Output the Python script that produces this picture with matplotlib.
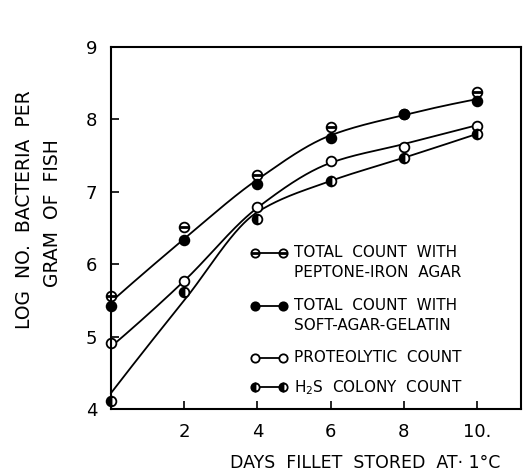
import numpy as np
import matplotlib
matplotlib.use("Agg")
import matplotlib.pyplot as plt

# ---- data ----
days = [0, 2, 4, 6, 8, 10]
peptone_iron = [5.56, 6.51, 7.23, 7.90, 8.08, 8.38]
soft_agar = [5.42, 6.33, 7.11, 7.74, 8.07, 8.25]
proteolytic = [4.91, 5.77, 6.79, 7.43, 7.62, 7.91]
h2s = [4.11, 5.62, 6.62, 7.15, 7.47, 7.80]

# hand-drawn smoothed curves (values of the drawn lines at each day)
curve_total = [5.48, 6.35, 7.17, 7.78, 8.06, 8.28]
curve_proteo = [4.86, 5.77, 6.78, 7.40, 7.66, 7.92]
curve_h2s = [4.22, 5.50, 6.72, 7.15, 7.47, 7.80]

x_ticks = [2, 4, 6, 8, 10]
x_ticklabels = ["2", "4", "6", "8", "10."]
y_ticks = [4, 5, 6, 7, 8, 9]
y_ticklabels = ["4", "5", "6", "7", "8", "9"]

legend_labels = ["TOTAL  COUNT  WITH\nPEPTONE-IRON  AGAR",
                 "TOTAL  COUNT  WITH\nSOFT-AGAR-GELATIN",
                 "PROTEOLYTIC  COUNT",
                 "H$_2$S  COLONY  COUNT"]


def pchip(xs, ys, n=60):
    """Shape-preserving cubic (PCHIP) used only to draw a smooth line."""
    x = np.asarray(xs, float)
    y = np.asarray(ys, float)
    h = np.diff(x)
    d = np.diff(y) / h
    m = np.zeros_like(y)
    for k in range(1, len(x) - 1):
        if d[k - 1] * d[k] > 0:
            w1 = 2 * h[k] + h[k - 1]
            w2 = h[k] + 2 * h[k - 1]
            m[k] = (w1 + w2) / (w1 / d[k - 1] + w2 / d[k])
    m[0] = ((2 * h[0] + h[1]) * d[0] - h[0] * d[1]) / (h[0] + h[1])
    if m[0] * d[0] <= 0:
        m[0] = 0
    m[-1] = ((2 * h[-1] + h[-2]) * d[-1] - h[-1] * d[-2]) / (h[-1] + h[-2])
    if m[-1] * d[-1] <= 0:
        m[-1] = 0
    ox, oy = [], []
    for k in range(len(x) - 1):
        t = np.linspace(0, 1, n)
        h00 = 2 * t**3 - 3 * t**2 + 1
        h10 = t**3 - 2 * t**2 + t
        h01 = -2 * t**3 + 3 * t**2
        h11 = t**3 - t**2
        ox.extend(x[k] + t * h[k])
        oy.extend(h00 * y[k] + h10 * h[k] * m[k] + h01 * y[k + 1] + h11 * h[k] * m[k + 1])
    return np.array(ox), np.array(oy)


plt.rcParams['font.family'] = ['DejaVu Sans']
fig = plt.figure(figsize=(5.24, 4.73), dpi=100)
ax = fig.add_axes([111 / 524, 1 - 409 / 473, 410 / 524, 362 / 473])

lw = 1.3
for cv in (curve_total, curve_proteo, curve_h2s):
    sx, sy = pchip(days, cv)
    ax.plot(sx, sy, color='black', lw=lw, clip_on=False)

ms = 7
mew = 1.3
# peptone-iron: circle with bar
ax.plot(days, peptone_iron, 'o', ms=ms, mfc='white', mec='black', mew=mew, clip_on=False)
ax.plot(days, peptone_iron, '_', ms=ms, mec='black', mew=2.0, clip_on=False)
# soft agar gelatin: filled
ax.plot(days, soft_agar, 'o', ms=ms, mfc='black', mec='black', mew=mew, clip_on=False)
# proteolytic: open
ax.plot(days, proteolytic, 'o', ms=ms, mfc='white', mec='black', mew=mew, clip_on=False)
# H2S: half filled
ax.plot(days, h2s, 'o', ms=ms, fillstyle='left', mfc='black', mfcalt='white',
        mec='black', mew=mew, clip_on=False)

ax.set_xlim(0, 11.2)
ax.set_ylim(4, 9)
ax.set_xticks(x_ticks)
ax.set_xticklabels(x_ticklabels)
ax.set_yticks(y_ticks)
ax.set_yticklabels(y_ticklabels)
ax.tick_params(direction='in', length=6, width=1.2, labelsize=13, pad=10)
for s in ax.spines.values():
    s.set_linewidth(1.5)

# manual legend
tr = ax.transAxes
rows = [0.431, 0.285, 0.141, 0.061]
x1, x2, xt = 0.351, 0.420, 0.446
styles = [
    dict(mfc='white', mec='black'),
    dict(mfc='black', mec='black'),
    dict(mfc='white', mec='black'),
    dict(mfc='black', mec='black', fillstyle='left', mfcalt='white'),
]
for i, (yy, lab, st) in enumerate(zip(rows, legend_labels, styles)):
    ax.plot([x1, x2], [yy, yy], '-', color='black', lw=lw, transform=tr, clip_on=False)
    ax.plot([x1, x2], [yy, yy], 'o', ms=ms - 1, mew=mew, transform=tr, clip_on=False, **st)
    if i == 0:
        ax.plot([x1, x2], [yy, yy], '_', ms=ms - 1, mec='black', mew=2.0,
                transform=tr, clip_on=False)
    ax.text(xt, yy + 0.023, lab, transform=tr, fontsize=11, va='top', ha='left',
            linespacing=1.45)

fig.text(365 / 524, 1 - 463 / 473, "DAYS  FILLET  STORED  AT\u00b7 1\u00b0C",
         ha='center', va='center', fontsize=12.5)
fig.text(25 / 524, 1 - 210 / 473, "LOG  NO.  BACTERIA  PER", rotation=90,
         ha='center', va='center', fontsize=13.5)
fig.text(53 / 524, 1 - 213 / 473, "GRAM  OF  FISH", rotation=90,
         ha='center', va='center', fontsize=13.5)

fig.savefig("out.png", dpi=100)
